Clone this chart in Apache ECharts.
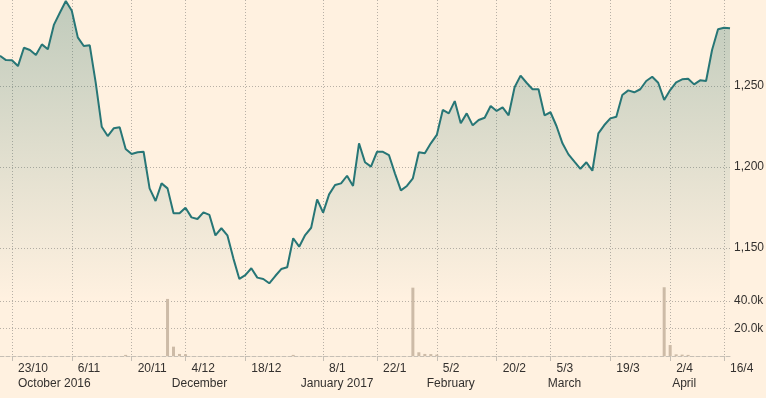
<!DOCTYPE html>
<html>
<head>
<meta charset="utf-8">
<title>Price and volume</title>
<script src="https://cdn.jsdelivr.net/npm/echarts@6/dist/echarts.min.js"></script>
<style>
  html, body { margin: 0; padding: 0; background: #fff1e0; }
  #chart { width: 766px; height: 398px; }
</style>
</head>
<body>
<div id="chart"></div>
<script>
// trading days (x axis categories)
const dates = [
  '2016-10-20','2016-10-21',
  '2016-10-24','2016-10-25','2016-10-26','2016-10-27','2016-10-28',
  '2016-10-31','2016-11-01','2016-11-02','2016-11-03','2016-11-04',
  '2016-11-07','2016-11-08','2016-11-09','2016-11-10','2016-11-11',
  '2016-11-14','2016-11-15','2016-11-16','2016-11-17','2016-11-18',
  '2016-11-21','2016-11-22','2016-11-23','2016-11-25',
  '2016-11-28','2016-11-29','2016-11-30','2016-12-01','2016-12-02',
  '2016-12-05','2016-12-06','2016-12-07','2016-12-08','2016-12-09',
  '2016-12-12','2016-12-13','2016-12-14','2016-12-15','2016-12-16',
  '2016-12-19','2016-12-20','2016-12-21','2016-12-22','2016-12-23',
  '2016-12-27','2016-12-28','2016-12-29','2016-12-30',
  '2017-01-03','2017-01-04','2017-01-05','2017-01-06',
  '2017-01-09','2017-01-10','2017-01-11','2017-01-12','2017-01-13',
  '2017-01-17','2017-01-18','2017-01-19','2017-01-20',
  '2017-01-23','2017-01-24','2017-01-25','2017-01-26','2017-01-27',
  '2017-01-30','2017-01-31','2017-02-01','2017-02-02','2017-02-03',
  '2017-02-06','2017-02-07','2017-02-08','2017-02-09','2017-02-10',
  '2017-02-13','2017-02-14','2017-02-15','2017-02-16','2017-02-17',
  '2017-02-21','2017-02-22','2017-02-23','2017-02-24',
  '2017-02-27','2017-02-28','2017-03-01','2017-03-02','2017-03-03',
  '2017-03-06','2017-03-07','2017-03-08','2017-03-09','2017-03-10',
  '2017-03-13','2017-03-14','2017-03-15','2017-03-16','2017-03-17',
  '2017-03-20','2017-03-21','2017-03-22','2017-03-23','2017-03-24',
  '2017-03-27','2017-03-28','2017-03-29','2017-03-30','2017-03-31',
  '2017-04-03','2017-04-04','2017-04-05','2017-04-06','2017-04-07',
  '2017-04-10','2017-04-11','2017-04-12','2017-04-13',
  '2017-04-17','2017-04-18'
];

// closing prices
const prices = [
  1268.7, 1266.0, 1265.9, 1262.3, 1273.6, 1272.2, 1269.1, 1275.7, 1272.7, 1287.7,
  1295.2, 1302.5, 1296.5, 1280.0, 1274.7, 1275.1, 1251.9, 1224.9, 1219.1, 1223.9,
  1224.5, 1211.1, 1208.0, 1209.1, 1209.4, 1186.8, 1179.0, 1189.9, 1186.8, 1171.4,
  1171.4, 1174.9, 1168.9, 1167.9, 1172.0, 1170.4, 1157.8, 1162.2, 1157.8, 1143.6,
  1130.9, 1133.3, 1137.5, 1131.7, 1130.9, 1128.2, 1132.7, 1137.0, 1138.1, 1156.0,
  1150.8, 1158.0, 1162.5, 1180.0, 1171.8, 1183.1, 1188.9, 1189.9, 1194.6, 1188.3,
  1214.6, 1202.9, 1200.2, 1209.4, 1209.4, 1207.4, 1196.1, 1185.6, 1188.3, 1193.0,
  1209.1, 1208.5, 1214.6, 1219.8, 1235.2, 1233.1, 1240.7, 1227.0, 1233.1, 1225.7,
  1229.0, 1230.4, 1237.7, 1234.6, 1236.8, 1231.9, 1249.2, 1256.4, 1252.0, 1248.0,
  1248.0, 1231.9, 1233.8, 1225.3, 1214.6, 1207.8, 1203.3, 1198.9, 1202.9, 1197.7,
  1220.8, 1225.9, 1230.0, 1231.0, 1244.4, 1247.3, 1246.1, 1248.0, 1253.1, 1255.7,
  1252.0, 1241.4, 1247.5, 1252.3, 1254.1, 1254.5, 1251.0, 1253.5, 1253.1, 1272.2,
  1285.0, 1286.0, 1285.6
];

// traded volume
const volumes = [
  0, 0, 0, 0, 0, 0, 0, 0, 0, 0,
  0, 0, 0, 0, 0, 0, 0, 0, 0, 0,
  0, 800, 0, 0, 0, 0, 0, 0, 41500, 6800,
  1500, 1300, 0, 0, 0, 0, 0, 0, 0, 0,
  0, 0, 0, 0, 0, 0, 0, 0, 0, 800,
  0, 0, 0, 0, 0, 0, 0, 0, 0, 0,
  0, 0, 0, 0, 0, 0, 0, 0, 0, 49700,
  2700, 1500, 1400, 1000, 0, 0, 0, 0, 0, 0,
  0, 0, 0, 0, 0, 0, 0, 0, 0, 0,
  0, 0, 0, 0, 0, 0, 0, 0, 0, 0,
  0, 0, 0, 0, 0, 0, 0, 0, 0, 0,
  0, 51100, 8000, 1200, 1000, 800, 0, 0, 0, 0,
  0, 0, 0
];

// x axis ticks: first trading day after each labelled date
const tickDates = [
  '2016-10-24','2016-11-07','2016-11-21','2016-12-05','2016-12-19','2017-01-09','2017-01-23',
  '2017-02-06','2017-02-21','2017-03-06','2017-03-20','2017-04-03','2017-04-17'
];
const tickLabels = ['23/10','6/11','20/11','4/12','18/12','8/1','22/1','5/2','20/2','5/3','19/3','2/4','16/4'];
const monthLabels = ['October 2016','','','December','','January 2017','','February','','March','','April',''];

const priceTicks = [1150, 1200, 1250];
const volumeTicks = [20000, 40000];

const FONT = "'Liberation Sans', Arial, sans-serif";
const TEXT_COLOR = '#33302e';
const GRID_COLOR = '#b8b0a6';

// month names sit roughly centred under the date label,
// the first one is pushed right so it stays inside the chart
const ctx = document.createElement('canvas').getContext('2d');
ctx.font = '12px ' + FONT;
const monthRich = {};
monthLabels.forEach((m, i) => {
  if (!m) return;
  const w = ctx.measureText(m).width;
  const shift = i === 0 ? w / 2 + 6 : 14;
  monthRich['m' + i] = { padding: [0, 0, 0, shift * 2], fontSize: 12, fontFamily: FONT, color: TEXT_COLOR, lineHeight: 15 };
});

const isTick = (index, value) => tickDates.includes(value);
const isMonth = (index, value) => {
  const i = tickDates.indexOf(value);
  return i >= 0 && monthLabels[i] !== '';
};

const chart = echarts.init(document.getElementById('chart'));

const option = {
  backgroundColor: '#fff1e0',
  animation: false,
  grid: [
    { left: 0, right: 36, top: 0, bottom: 42, outerBoundsMode: 'none' },
    { left: 0, right: 36, top: 287.25, bottom: 42, outerBoundsMode: 'none' }
  ],
  xAxis: [
    {
      type: 'category',
      gridIndex: 0,
      data: dates,
      boundaryGap: false,
      position: 'bottom',
      axisLine: { show: true, lineStyle: { color: '#c6bfb5', type: [4, 2], width: 1 } },
      axisTick: { show: true, interval: isTick, length: 5, lineStyle: { color: '#c6bfb5' } },
      axisLabel: {
        interval: isTick,
        hideOverlap: false,
        formatter: (value) => tickLabels[tickDates.indexOf(value)],
        align: 'left',
        padding: [0, 0, 0, 6],
        margin: 5,
        color: TEXT_COLOR,
        fontSize: 12,
        fontFamily: FONT,
        lineHeight: 15
      },
      splitLine: { show: true, interval: isTick, lineStyle: { color: GRID_COLOR, type: [1, 2], width: 1 } }
    },
    {
      // month names under the date labels
      type: 'category',
      gridIndex: 0,
      data: dates,
      boundaryGap: false,
      position: 'bottom',
      axisLine: { show: false },
      axisTick: { show: false },
      splitLine: { show: false },
      axisLabel: {
        interval: isMonth,
        hideOverlap: false,
        formatter: (value) => {
          const i = tickDates.indexOf(value);
          return '{m' + i + '|' + monthLabels[i] + '}';
        },
        align: 'center',
        margin: 20,
        rich: monthRich
      }
    },
    {
      type: 'category',
      gridIndex: 1,
      data: dates,
      boundaryGap: false,
      show: false
    }
  ],
  yAxis: [
    {
      type: 'value',
      gridIndex: 0,
      position: 'right',
      min: 1083.33,
      max: 1303.09,
      axisLine: { show: false },
      axisTick: { show: false, customValues: priceTicks },
      axisLabel: {
        customValues: priceTicks,
        formatter: (v) => v.toLocaleString('en-US'),
        margin: 4,
        color: TEXT_COLOR,
        fontSize: 12,
        fontFamily: FONT
      },
      splitLine: { show: true, lineStyle: { color: GRID_COLOR, type: [1, 2], width: 1 } }
    },
    {
      type: 'value',
      gridIndex: 1,
      position: 'right',
      min: 0,
      max: 50000,
      axisLine: { show: false },
      axisTick: { show: false, customValues: volumeTicks },
      axisLabel: {
        customValues: volumeTicks,
        formatter: (v) => (v / 1000).toFixed(1) + 'k',
        margin: 4,
        color: TEXT_COLOR,
        fontSize: 12,
        fontFamily: FONT
      },
      splitLine: { show: true, lineStyle: { color: GRID_COLOR, type: [1, 2], width: 1 } }
    }
  ],
  series: [
    {
      name: 'Price',
      type: 'line',
      xAxisIndex: 0,
      yAxisIndex: 0,
      data: prices,
      symbol: 'none',
      z: 3,
      lineStyle: { color: '#277676', width: 2 },
      areaStyle: {
        color: new echarts.graphic.LinearGradient(0, 0, 0, 1, [
          { offset: 0, color: 'rgba(40, 110, 100, 0.42)' },
          { offset: 0.84, color: 'rgba(40, 110, 100, 0)' }
        ])
      }
    },
    {
      name: 'Volume',
      type: 'bar',
      xAxisIndex: 2,
      yAxisIndex: 1,
      data: volumes,
      barWidth: 3,
      itemStyle: { color: '#cdbba7' }
    }
  ]
};

chart.setOption(option);
</script>
</body>
</html>
